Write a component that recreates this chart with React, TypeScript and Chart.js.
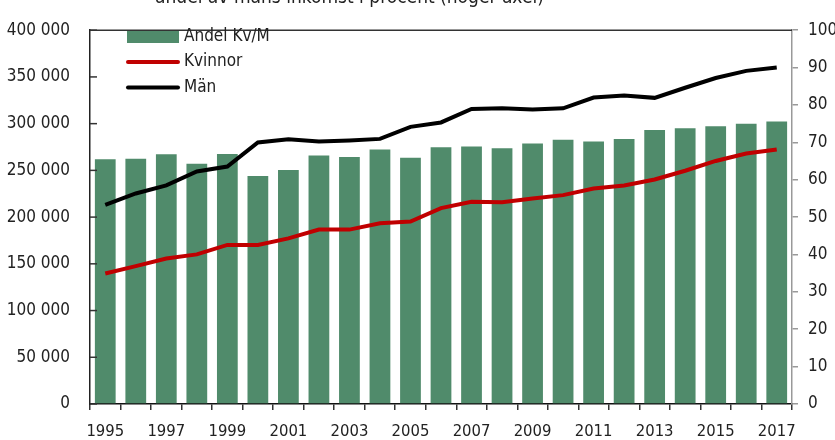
import React, { useEffect, useRef } from "react";
import { Chart, registerables } from "chart.js";

Chart.register(...registerables);

const years = [
  "1995", "1996", "1997", "1998", "1999", "2000", "2001", "2002", "2003", "2004", "2005", "2006",
  "2007", "2008", "2009", "2010", "2011", "2012", "2013", "2014", "2015", "2016", "2017",
];
const andelKvM = [
  65.5, 65.6, 66.8, 64.3, 66.9, 61.0, 62.6, 66.5, 66.1, 68.1, 65.9, 68.7,
  68.9, 68.4, 69.7, 70.7, 70.2, 70.9, 73.3, 73.8, 74.3, 75.0, 75.6,
];
const kvinnor = [
  139600, 147600, 155600, 160100, 170200, 170200, 177200, 186600, 186600, 193500, 195300, 209600,
  216500, 215800, 220000, 223500, 230500, 233900, 240200, 249600, 260100, 268100, 272300,
];
const man = [
  213000, 225300, 233900, 248900, 254100, 279900, 283400, 280900, 282000, 283700, 296600, 301300,
  315700, 316400, 315100, 316400, 327900, 330000, 327600, 338400, 348800, 356500, 360000,
];
const titleText = "andel av mäns inkomst i procent (höger axel)";
const legendLabels = ["Andel Kv/M", "Kvinnor", "Män"];

const FONT = "'Liberation Sans Narrow', 'DejaVu Sans Condensed', 'Arial Narrow', sans-serif";
const GREEN = "#508b6b";
const RED = "#c00000";
const BLACK = "#000000";
const TEXT = "#222222";

const fmt = (v: number) => {
  const s = Math.round(v).toString();
  return s.replace(/\B(?=(\d{3})+(?!\d))/g, " ");
};

const extrasPlugin = {
  id: "extras",
  afterDraw(chart: any) {
    const ctx = chart.ctx;
    const area = chart.chartArea;
    const yL = chart.scales.y;
    ctx.save();
    // top border
    ctx.strokeStyle = "#333";
    ctx.lineWidth = 1.5;
    ctx.beginPath();
    ctx.moveTo(area.left, area.top);
    ctx.lineTo(area.right, area.top);
    ctx.stroke();
    // inward ticks on left axis
    ctx.strokeStyle = "#333";
    ctx.lineWidth = 1.5;
    yL.ticks.forEach((t: any) => {
      const py = yL.getPixelForValue(t.value);
      ctx.beginPath();
      ctx.moveTo(area.left, py);
      ctx.lineTo(area.left + 7, py);
      ctx.stroke();
    });
    // title (cut off at top)
    ctx.fillStyle = TEXT;
    ctx.font = `19px ${FONT}`;
    ctx.textBaseline = "alphabetic";
    ctx.textAlign = "left";
    ctx.fillText(titleText, 155, 3);
    // legend
    const lx = 127;
    const lw = 52;
    ctx.font = `17px ${FONT}`;
    ctx.textBaseline = "middle";
    ctx.fillStyle = GREEN;
    ctx.fillRect(lx, 31, lw, 12);
    ctx.fillStyle = TEXT;
    ctx.fillText(legendLabels[0], 184, 37);
    ctx.lineCap = "round";
    ctx.lineWidth = 4;
    ctx.strokeStyle = RED;
    ctx.beginPath();
    ctx.moveTo(lx + 1, 62);
    ctx.lineTo(lx + lw - 1, 62);
    ctx.stroke();
    ctx.fillText(legendLabels[1], 184, 62);
    ctx.strokeStyle = BLACK;
    ctx.beginPath();
    ctx.moveTo(lx + 1, 87.5);
    ctx.lineTo(lx + lw - 1, 87.5);
    ctx.stroke();
    ctx.fillText(legendLabels[2], 184, 87.5);
    ctx.restore();
  },
};

export default function App() {
  const ref = useRef<HTMLCanvasElement | null>(null);
  useEffect(() => {
    if (!ref.current) return;
    const chart = new Chart(ref.current, {
      type: "bar",
      data: {
        labels: years,
        datasets: [
          {
            type: "line",
            label: legendLabels[1],
            data: kvinnor,
            yAxisID: "y",
            borderColor: RED,
            backgroundColor: RED,
            borderWidth: 4,
            pointRadius: 0,
            tension: 0,
            order: 1,
          } as any,
          {
            type: "line",
            label: legendLabels[2],
            data: man,
            yAxisID: "y",
            borderColor: BLACK,
            backgroundColor: BLACK,
            borderWidth: 4,
            pointRadius: 0,
            tension: 0,
            order: 1,
          } as any,
          {
            type: "bar",
            label: legendLabels[0],
            data: andelKvM,
            yAxisID: "y1",
            backgroundColor: GREEN,
            borderWidth: 0,
            barPercentage: 0.68,
            categoryPercentage: 1,
            order: 2,
          },
        ],
      },
      options: {
        animation: false,
        responsive: false,
        maintainAspectRatio: false,
        layout: { padding: { top: 21, left: 0, right: 0, bottom: 0 } },
        plugins: {
          legend: { display: false },
          tooltip: { enabled: false },
          title: { display: false },
        },
        scales: {
          x: {
            offset: true,
            grid: {
              display: true,
              offset: true,
              drawOnChartArea: false,
              drawTicks: true,
              tickLength: 6,
              color: "#333",
              lineWidth: 1.5,
            },
            border: { display: true, color: "#111", width: 1.5 },
            ticks: {
              autoSkip: false,
              maxRotation: 0,
              minRotation: 0,
              padding: 12,
              color: TEXT,
              font: { family: FONT, size: 16.5 },
              callback: (_v: any, i: number) => (i % 2 === 0 ? years[i] : ""),
            },
            afterFit: (s: any) => {
              s.height = 36;
            },
          },
          y: {
            position: "left",
            min: 0,
            max: 400000,
            grid: { display: false, drawTicks: false },
            border: { display: true, color: "#222", width: 1.5 },
            ticks: {
              stepSize: 50000,
              padding: 20,
              color: TEXT,
              font: { family: FONT, size: 17 },
              callback: (v: any) => fmt(Number(v)),
            },
            afterFit: (s: any) => {
              s.width = 90;
            },
          },
          y1: {
            position: "right",
            min: 0,
            max: 100,
            grid: {
              display: true,
              drawOnChartArea: false,
              drawTicks: true,
              tickLength: 6,
              color: "#999",
              lineWidth: 1.5,
            },
            border: { display: true, color: "#999", width: 1.5 },
            ticks: {
              stepSize: 10,
              padding: 10,
              color: TEXT,
              font: { family: FONT, size: 17 },
            },
            afterFit: (s: any) => {
              s.width = 43;
            },
          },
        },
      },
      plugins: [extrasPlugin],
    });
    return () => chart.destroy();
  }, []);
  return (
    <div style={{ position: "fixed", left: 0, top: 0, width: 835, height: 440, background: "#fff" }}>
      <canvas ref={ref} width={835} height={440} style={{ width: 835, height: 440, display: "block" }} />
    </div>
  );
}
